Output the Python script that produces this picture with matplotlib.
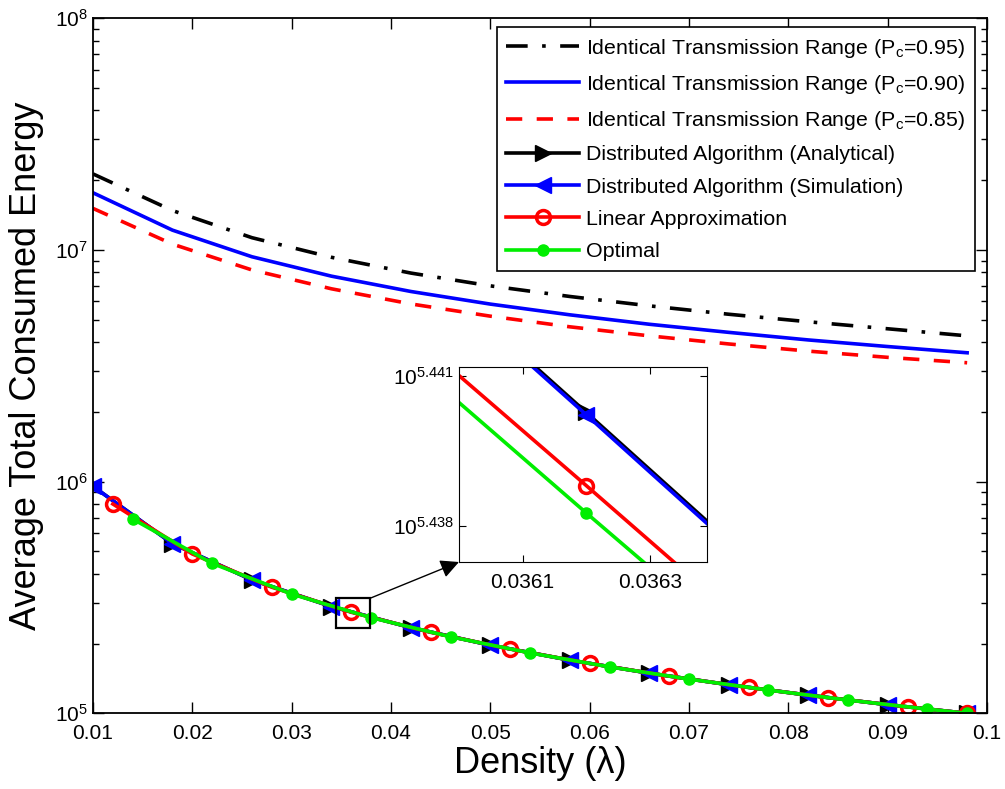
import matplotlib
matplotlib.use("Agg")
import matplotlib.pyplot as plt
from matplotlib.patches import Rectangle
from matplotlib.ticker import FixedLocator, FixedFormatter, NullLocator

plt.rcParams['font.family'] = ['Liberation Sans', 'DejaVu Sans']
plt.rcParams['mathtext.fontset'] = 'custom'
plt.rcParams['mathtext.rm'] = 'Liberation Sans'
plt.rcParams['mathtext.it'] = 'Liberation Sans:italic'
plt.rcParams['mathtext.bf'] = 'Liberation Sans:bold'

# identical transmission range curves + distributed algorithm share this grid
density = [0.010, 0.018, 0.026, 0.034, 0.042, 0.050, 0.058, 0.066, 0.074, 0.082, 0.090, 0.098]
itr_095 = [2.13e7, 1.48e7, 1.13e7, 9.3e6, 7.95e6, 7.0e6, 6.3e6, 5.74e6, 5.28e6, 4.9e6, 4.57e6, 4.26e6]
itr_090 = [1.766e7, 1.218e7, 9.35e6, 7.71e6, 6.62e6, 5.84e6, 5.25e6, 4.78e6, 4.41e6, 4.09e6, 3.83e6, 3.60e6]
itr_085 = [1.512e7, 1.06e7, 8.2e6, 6.8e6, 5.85e6, 5.18e6, 4.66e6, 4.26e6, 3.93e6, 3.66e6, 3.44e6, 3.26e6]
dist_analytical = [955000, 540200, 376700, 289100, 234400, 196900, 169700, 149100, 132900, 119800, 109000, 100000]
dist_simulation = [955000, 540200, 376700, 289100, 234400, 196900, 169700, 149100, 132900, 119800, 109000, 100000]

density_lin = [0.012, 0.020, 0.028, 0.036, 0.044, 0.052, 0.060, 0.068, 0.076, 0.084, 0.092, 0.098]
linear_approx = [801100, 487400, 350200, 273100, 223700, 189400, 164100, 144700, 129300, 116900, 106600, 100000]

density_opt = [0.014, 0.022, 0.030, 0.038, 0.046, 0.054, 0.062, 0.070, 0.078, 0.086, 0.094, 0.098]
optimal = [689900, 443900, 327200, 258900, 214000, 182300, 158700, 140500, 126000, 114100, 104300, 100000]

# zoomed-in values (inset)
density_zoom = [0.0360, 0.0362, 0.0364]
zoom_analytical = [277040, 275590, 274140]
zoom_simulation = [277010, 275560, 274110]
zoom_linear = [276058, 274663, 273263]
zoom_optimal = [275715, 274317, 272942]

xtick_vals = [0.01, 0.02, 0.03, 0.04, 0.05, 0.06, 0.07, 0.08, 0.09, 0.1]
xtick_labels = ['0.01', '0.02', '0.03', '0.04', '0.05', '0.06', '0.07', '0.08', '0.09', '0.1']

fig = plt.figure(figsize=(10.05, 7.89), dpi=100)
ax = fig.add_axes([0.0925, 0.0959, 0.8896, 0.8809])

lw = 2.6
ax.plot(density, itr_095, color='k', ls='-.', lw=lw, dashes=(6, 4, 1, 4),
        label='Identical Transmission Range (P$_\\mathrm{c}$=0.95)')
ax.plot(density, itr_090, color='b', ls='-', lw=lw,
        label='Identical Transmission Range (P$_\\mathrm{c}$=0.90)')
ax.plot(density, itr_085, color='r', ls='--', lw=lw, dashes=(4.5, 4),
        label='Identical Transmission Range (P$_\\mathrm{c}$=0.85)')
ax.plot(density, dist_analytical, color='k', lw=lw, marker='>', ms=11,
        label='Distributed Algorithm (Analytical)')
ax.plot(density, dist_simulation, color='b', lw=lw, marker='<', ms=11,
        label='Distributed Algorithm (Simulation)')
ax.plot(density_lin, linear_approx, color='r', lw=lw, marker='o', ms=10, mfc='none', mew=2.5,
        label='Linear Approximation')
ax.plot(density_opt, optimal, color='#00ee00', lw=lw, marker='o', ms=8,
        label='Optimal')

ax.set_yscale('log')
ax.set_xlim(0.01, 0.1)
ax.set_ylim(1e5, 1e8)
ax.set_xticks(xtick_vals)
ax.set_xticklabels(xtick_labels)
ax.tick_params(which='both', direction='in', top=True, right=True, labelsize=15)
ax.tick_params(which='major', length=8, width=1)
ax.tick_params(which='minor', length=4.5, width=1)
ax.tick_params(axis='x', pad=8)
for s in ax.spines.values():
    s.set_linewidth(1.3)

ax.set_xlabel('Density (λ)', fontsize=26, labelpad=2)
ax.set_ylabel('Average Total Consumed Energy', fontsize=26, labelpad=8)

leg = ax.legend(loc='upper right', bbox_to_anchor=(0.9866, 0.9875), borderaxespad=0,
                fontsize=15.4, handlelength=3.4, labelspacing=0.62, fancybox=False,
                framealpha=1, edgecolor='k', borderpad=0.45, handletextpad=0.35)
leg.get_frame().set_linewidth(1.2)

# marker box around the zoomed region
box_x = [0.03443, 0.03788]
box_y = [234200, 313600]
ax.add_patch(Rectangle((box_x[0], box_y[0]), box_x[1] - box_x[0], box_y[1] - box_y[0],
                       fill=False, edgecolor='k', lw=1.6, zorder=10))

# inset
axins = fig.add_axes([0.4567, 0.2877, 0.2468, 0.2471])
axins.plot(density_zoom, zoom_analytical, color='k', lw=lw, marker='>', ms=11, markevery=[1])
axins.plot(density_zoom, zoom_simulation, color='b', lw=lw, marker='<', ms=11, markevery=[1])
axins.plot(density_zoom, zoom_linear, color='r', lw=lw, marker='o', ms=10, mfc='none', mew=2.5,
           markevery=[1])
axins.plot(density_zoom, zoom_optimal, color='#00ee00', lw=lw, marker='o', ms=8, markevery=[1])
axins.set_yscale('log')
axins.set_xlim(0.03600, 0.03639)
axins.set_ylim(10 ** 5.43727, 10 ** 5.44117)
axins.xaxis.set_major_locator(FixedLocator([0.0361, 0.0363]))
axins.xaxis.set_major_formatter(FixedFormatter(['0.0361', '0.0363']))
axins.yaxis.set_major_locator(FixedLocator([10 ** 5.438, 10 ** 5.441]))
axins.yaxis.set_major_formatter(FixedFormatter(['$10^{5.438}$', '$10^{5.441}$']))
axins.yaxis.set_minor_locator(NullLocator())
axins.tick_params(which='both', direction='in', top=True, right=True, labelsize=15, length=5)
axins.tick_params(axis='x', pad=8)

ax.annotate('', xy=(0, 0), xycoords=axins.transAxes,
            xytext=(box_x[1], box_y[1]), textcoords='data',
            arrowprops=dict(arrowstyle='-|>', color='k', lw=1, mutation_scale=28,
                            shrinkA=0, shrinkB=0))

fig.savefig('out.png', dpi=100)
